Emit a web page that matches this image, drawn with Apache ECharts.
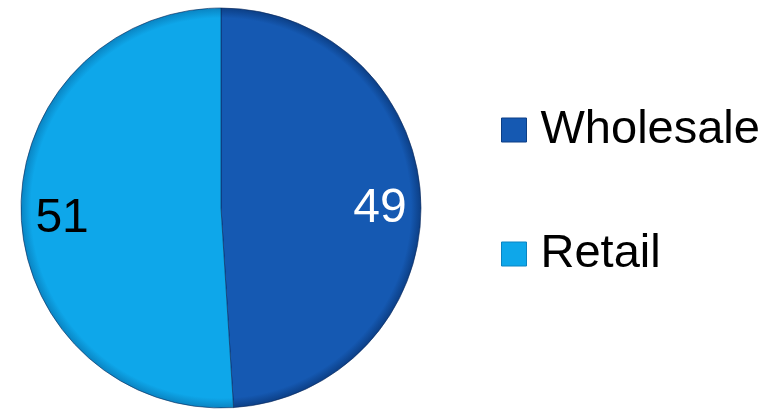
<!DOCTYPE html>
<html>
<head>
<meta charset="utf-8">
<script src="https://cdn.jsdelivr.net/npm/echarts@6/dist/echarts.min.js"></script>
<style>html,body{margin:0;padding:0;background:#fff}#c{width:774px;height:411px}</style>
</head>
<body>
<div id="c"></div>
<script>
var categories = ['Wholesale', 'Retail'];
var values = [49, 51];
var baseColors = ['#1559b2', '#0ea7ea'];
var rimColors = ['#0c3f86', '#0a84c2'];
var labelColors = ['#ffffff', '#000000'];

var CX = 221, CY = 208, R = 200;
function grad(i) {
  return {
    type: 'radial', x: CX, y: CY, r: R, global: true,
    colorStops: [
      {offset: 0, color: baseColors[i]},
      {offset: 0.95, color: baseColors[i]},
      {offset: 1, color: rimColors[i]}
    ]
  };
}
var chart = echarts.init(document.getElementById('c'), null, {renderer: 'canvas'});
var data = categories.map(function (c, i) {
  return {name: c, value: values[i], itemStyle: {color: grad(i)}};
});
var labelData = categories.map(function (c, i) {
  return {name: c, value: values[i], itemStyle: {color: 'rgba(0,0,0,0)'},
    label: {color: labelColors[i]}};
});
chart.setOption({
  animation: false,
  legend: {
    orient: 'vertical', left: 501, top: 105, padding: 0,
    itemWidth: 25, itemHeight: 24, itemGap: 74,
    icon: 'rect',
    data: categories.map(function (c, i) { return {name: c, itemStyle: {color: baseColors[i], borderColor: rimColors[i], borderWidth: 1}}; }),
    textStyle: {fontFamily: 'Liberation Sans', fontSize: 47, color: '#000', lineHeight: 50, padding: [0, 0, 0, 9]}
  },
  series: [{
    type: 'pie', center: [CX, CY], radius: [0, R], startAngle: 90, clockwise: true,
    label: {show: false}, labelLine: {show: false},
    itemStyle: {borderColor: 'rgba(10,40,90,0.6)', borderWidth: 1},
    emphasis: {disabled: true},
    data: data
  }, {
    type: 'pie', center: [CX, CY], radius: [112, R], startAngle: 90, clockwise: true,
    silent: true, legendHoverLink: false,
    label: {show: true, position: 'inside', formatter: '{c}', fontFamily: 'Liberation Sans', fontSize: 48, offset: [0, 6]},
    labelLine: {show: false},
    emphasis: {disabled: true},
    data: labelData
  }]
});
</script>
</body>
</html>
